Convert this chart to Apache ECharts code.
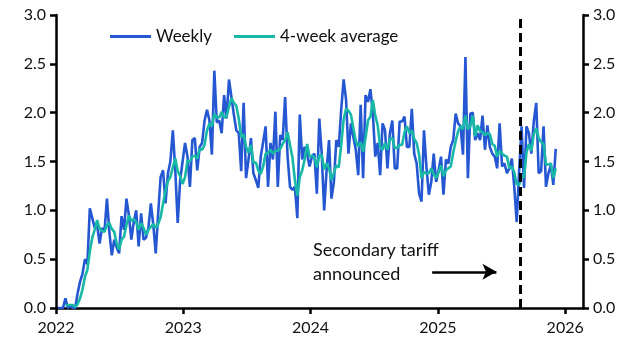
<!DOCTYPE html>
<html>
<head>
<meta charset="utf-8">
<script src="https://cdn.jsdelivr.net/npm/echarts@6/dist/echarts.min.js"></script>
<style>
html,body{margin:0;padding:0;background:#fff;}
#chart{width:630px;height:355px;}
</style>
</head>
<body>
<div id="chart"></div>
<script>
// Weekly series starting 2022-01-07, one value per week
const startDate = '2022-01-07';
const weekly = [
0,0,0,0.1,0,0.02,0,0,0.15,0.27,
0.35,0.5,0.45,1.02,0.92,0.82,0.85,0.66,0.82,0.78,
1.12,0.78,0.54,0.7,0.62,0.56,0.94,0.8,1.12,0.95,
0.7,0.88,1.0,0.63,0.97,0.7,0.72,0.82,1.07,0.85,
0.56,0.97,1.34,1.41,1.07,1.38,1.5,1.82,1.41,0.87,
1.31,1.5,1.69,1.55,1.24,1.72,1.74,1.41,1.65,1.69,
1.92,2.03,1.92,1.57,2.43,1.9,1.92,1.79,2.18,1.94,
2.34,2.16,1.98,1.82,1.79,1.4,2.1,1.33,1.52,1.74,
1.38,1.31,1.23,1.55,1.7,1.86,1.24,1.69,1.52,2.01,
1.24,1.77,1.72,2.16,1.55,1.24,1.21,1.24,0.92,1.98,
1.52,1.65,1.58,1.45,1.55,1.58,1.17,1.94,1.58,1.0,
1.41,1.72,1.12,1.29,1.72,1.65,2.03,2.34,2.13,1.58,
1.89,1.75,1.62,1.36,2.08,1.33,2.18,2.11,2.24,1.99,
1.55,1.69,1.36,1.89,1.82,1.43,1.79,1.92,1.43,1.43,
1.91,1.91,1.96,1.65,1.65,2.04,1.58,1.48,1.17,1.09,
1.82,1.45,1.16,1.29,1.58,1.29,1.41,1.55,1.16,1.52,
1.48,1.65,1.72,1.99,1.89,1.86,1.57,2.57,1.33,1.99,
2.0,1.72,1.79,1.72,1.97,1.62,1.87,1.65,1.58,1.55,
1.43,1.89,1.45,1.48,1.38,1.43,1.53,1.24,0.88,1.4,
1.86,1.23,1.86,1.79,1.58,1.91,2.1,1.38,1.4,1.86,
1.24,1.38,1.46,1.26,1.63
];
const avg4 = [
null,null,null,0.03,0.03,0.03,0.03,0.01,0.04,0.1,
0.19,0.32,0.39,0.58,0.72,0.8,0.9,0.81,0.79,0.78,
0.85,0.87,0.81,0.78,0.66,0.6,0.7,0.73,0.85,0.95,
0.89,0.91,0.88,0.8,0.87,0.82,0.75,0.8,0.83,0.86,
0.82,0.86,0.93,1.07,1.2,1.3,1.34,1.44,1.53,1.4,
1.35,1.27,1.34,1.51,1.5,1.55,1.56,1.53,1.63,1.62,
1.67,1.82,1.89,1.86,1.99,1.95,1.95,2.01,1.95,1.96,
2.06,2.15,2.1,2.07,1.94,1.75,1.78,1.65,1.59,1.67,
1.49,1.49,1.41,1.37,1.45,1.58,1.59,1.62,1.58,1.61,
1.61,1.63,1.68,1.72,1.8,1.67,1.54,1.31,1.15,1.34,
1.41,1.52,1.68,1.55,1.56,1.54,1.44,1.56,1.57,1.42,
1.48,1.43,1.31,1.38,1.46,1.44,1.67,1.93,2.04,2.02,
1.98,1.84,1.71,1.65,1.7,1.6,1.74,1.92,1.96,2.13,
1.97,1.87,1.65,1.62,1.69,1.62,1.73,1.74,1.64,1.64,
1.67,1.67,1.8,1.86,1.79,1.82,1.73,1.69,1.57,1.33,
1.39,1.38,1.38,1.43,1.37,1.33,1.39,1.46,1.35,1.41,
1.43,1.45,1.59,1.71,1.81,1.86,1.83,1.97,1.83,1.86,
1.97,1.76,1.87,1.81,1.8,1.77,1.79,1.78,1.68,1.66,
1.55,1.61,1.58,1.56,1.55,1.43,1.45,1.39,1.27,1.26,
1.34,1.34,1.59,1.68,1.61,1.78,1.84,1.74,1.7,1.68,
1.47,1.47,1.48,1.33,1.43
];
const yearTicks = [2022, 2023, 2024, 2025, 2026];
const yTicks = [0, 0.5, 1, 1.5, 2, 2.5, 3];
const eventDate = '2025-08-27';
const annotationLines = ['Secondary tariff', 'announced'];
const seriesNames = ['Weekly', '4-week average'];

function toYear(d) {
  const y = d.getUTCFullYear();
  const a = Date.UTC(y, 0, 1), b = Date.UTC(y + 1, 0, 1);
  return y + (d.getTime() - a) / (b - a);
}
const t0 = new Date(startDate + 'T00:00:00Z').getTime();
const xs = weekly.map((_, i) => toYear(new Date(t0 + i * 7 * 86400000)));
const weeklyData = weekly.map((v, i) => [xs[i], v]);
const avgData = avg4.map((v, i) => [xs[i], v]);
const eventX = toYear(new Date(eventDate + 'T00:00:00Z'));

const FONT = 'Lato';
const chart = echarts.init(document.getElementById('chart'), null, {renderer: 'canvas'});
const axisLine = {show: true, lineStyle: {color: '#000', width: 2.5}};
const yAxisCommon = {
  type: 'value', min: yTicks[0], max: yTicks[yTicks.length - 1], interval: 0.5,
  axisLine: axisLine,
  axisTick: {show: true, length: 6, lineStyle: {color: '#000', width: 2.5}},
  splitLine: {show: false},
  axisLabel: {color: '#111', fontFamily: FONT, fontSize: 16, margin: 10,
    formatter: v => v.toFixed(1)}
};
chart.setOption({
  animation: false,
  backgroundColor: '#fff',
  grid: {left: 56, right: 47, top: 15, bottom: 47, containLabel: false},
  legend: {
    data: seriesNames.map(n => ({name: n, icon: 'rect'})),
    left: 105, top: 23, itemWidth: 41, itemHeight: 3, itemGap: 22,
    textStyle: {fontFamily: FONT, fontSize: 17, color: '#111', padding: [0, 0, 0, 0]}
  },
  xAxis: {
    type: 'value', min: yearTicks[0], max: 2026.14, interval: 1,
    axisLine: axisLine,
    axisTick: {show: true, length: 6, lineStyle: {color: '#000', width: 2.5}},
    splitLine: {show: false},
    axisLabel: {color: '#111', fontFamily: FONT, fontSize: 16, margin: 12, showMaxLabel: false,
      formatter: v => (yearTicks.indexOf(Math.round(v)) >= 0 && Math.abs(v - Math.round(v)) < 1e-6) ? String(Math.round(v)) : ''}
  },
  yAxis: [
    Object.assign({}, yAxisCommon, {position: 'left'}),
    Object.assign({}, yAxisCommon, {position: 'right'})
  ],
  series: [
    {
      name: seriesNames[0], type: 'line', data: weeklyData, symbol: 'none',
      lineStyle: {color: '#2457d1', width: 2.6}, itemStyle: {color: '#2457d1'},
      z: 2,
      markLine: {
        silent: true, symbol: ['none', 'none'], label: {show: false},
        lineStyle: {color: '#000', type: [9, 5], width: 3},
        data: [{xAxis: eventX}]
      }
    },
    {
      name: seriesNames[1], type: 'line', data: avgData, symbol: 'none',
      lineStyle: {color: '#17b8a6', width: 2.6}, itemStyle: {color: '#17b8a6'},
      z: 3,
      markLine: {
        silent: true, symbol: ['none', 'arrow'], symbolSize: [12, 14], label: {show: false},
        lineStyle: {color: '#000', type: 'solid', width: 2.5},
        data: [[{coord: [2024.955, 0.37]}, {coord: [2025.46, 0.37]}]]
      }
    }
  ],
  graphic: [
    {type: 'text', left: 313, top: 241, style: {text: annotationLines[0], font: '18px ' + FONT, fill: '#111'}},
    {type: 'text', left: 313, top: 265, style: {text: annotationLines[1], font: '18px ' + FONT, fill: '#111'}}
  ]
});
</script>
</body>
</html>
